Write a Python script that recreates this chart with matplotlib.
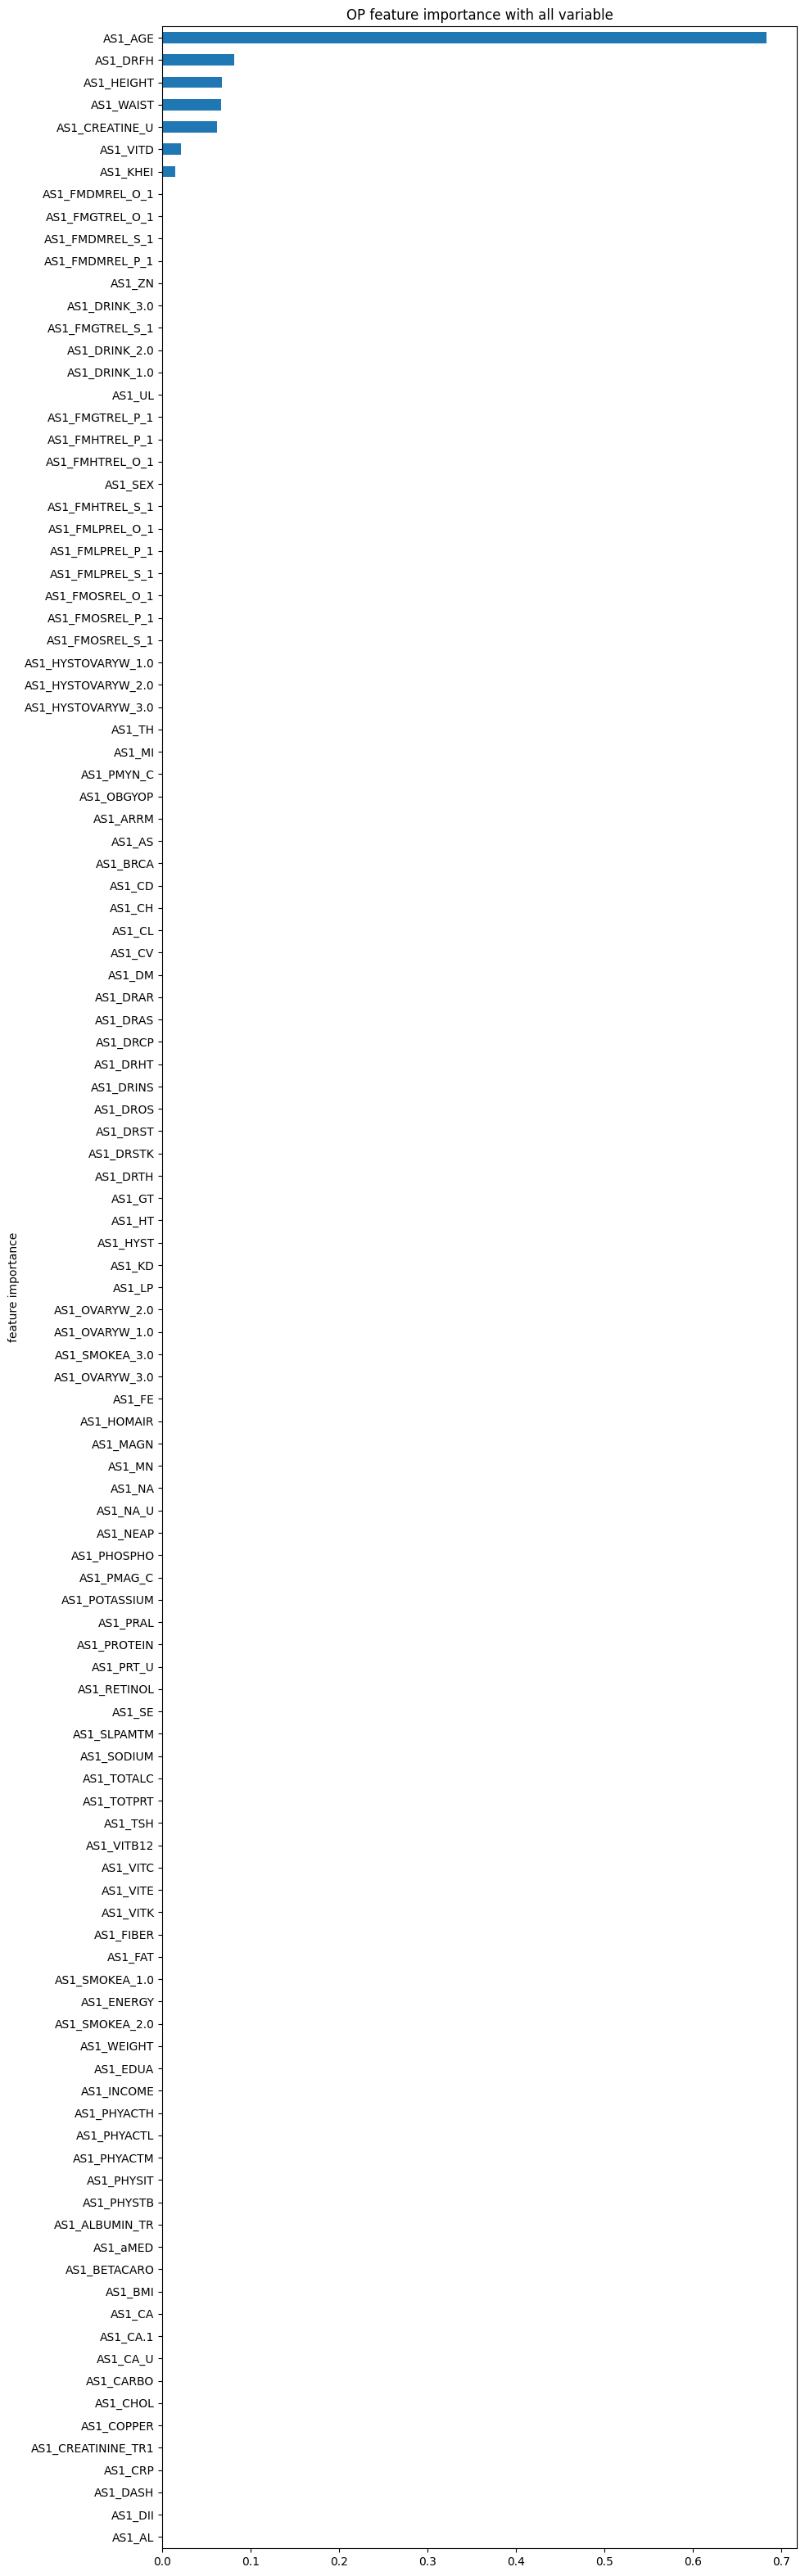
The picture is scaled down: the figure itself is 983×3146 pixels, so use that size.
import numpy as np
import pandas as pd
import matplotlib
matplotlib.use("Agg")
import matplotlib.pyplot as plt

# features listed top to bottom as they appear in the chart
features = [
    "AS1_AGE", "AS1_DRFH", "AS1_HEIGHT", "AS1_WAIST", "AS1_CREATINE_U", "AS1_VITD", "AS1_KHEI",
    "AS1_FMDMREL_O_1", "AS1_FMGTREL_O_1", "AS1_FMDMREL_S_1", "AS1_FMDMREL_P_1", "AS1_ZN",
    "AS1_DRINK_3.0", "AS1_FMGTREL_S_1", "AS1_DRINK_2.0", "AS1_DRINK_1.0", "AS1_UL",
    "AS1_FMGTREL_P_1", "AS1_FMHTREL_P_1", "AS1_FMHTREL_O_1", "AS1_SEX", "AS1_FMHTREL_S_1",
    "AS1_FMLPREL_O_1", "AS1_FMLPREL_P_1", "AS1_FMLPREL_S_1", "AS1_FMOSREL_O_1",
    "AS1_FMOSREL_P_1", "AS1_FMOSREL_S_1", "AS1_HYSTOVARYW_1.0", "AS1_HYSTOVARYW_2.0",
    "AS1_HYSTOVARYW_3.0", "AS1_TH", "AS1_MI", "AS1_PMYN_C", "AS1_OBGYOP", "AS1_ARRM",
    "AS1_AS", "AS1_BRCA", "AS1_CD", "AS1_CH", "AS1_CL", "AS1_CV", "AS1_DM", "AS1_DRAR",
    "AS1_DRAS", "AS1_DRCP", "AS1_DRHT", "AS1_DRINS", "AS1_DROS", "AS1_DRST", "AS1_DRSTK",
    "AS1_DRTH", "AS1_GT", "AS1_HT", "AS1_HYST", "AS1_KD", "AS1_LP", "AS1_OVARYW_2.0",
    "AS1_OVARYW_1.0", "AS1_SMOKEA_3.0", "AS1_OVARYW_3.0", "AS1_FE", "AS1_HOMAIR",
    "AS1_MAGN", "AS1_MN", "AS1_NA", "AS1_NA_U", "AS1_NEAP", "AS1_PHOSPHO", "AS1_PMAG_C",
    "AS1_POTASSIUM", "AS1_PRAL", "AS1_PROTEIN", "AS1_PRT_U", "AS1_RETINOL", "AS1_SE",
    "AS1_SLPAMTM", "AS1_SODIUM", "AS1_TOTALC", "AS1_TOTPRT", "AS1_TSH", "AS1_VITB12",
    "AS1_VITC", "AS1_VITE", "AS1_VITK", "AS1_FIBER", "AS1_FAT", "AS1_SMOKEA_1.0",
    "AS1_ENERGY", "AS1_SMOKEA_2.0", "AS1_WEIGHT", "AS1_EDUA", "AS1_INCOME", "AS1_PHYACTH",
    "AS1_PHYACTL", "AS1_PHYACTM", "AS1_PHYSIT", "AS1_PHYSTB", "AS1_ALBUMIN_TR", "AS1_aMED",
    "AS1_BETACARO", "AS1_BMI", "AS1_CA", "AS1_CA.1", "AS1_CA_U", "AS1_CARBO", "AS1_CHOL",
    "AS1_COPPER", "AS1_CREATININE_TR1", "AS1_CRP", "AS1_DASH", "AS1_DII", "AS1_AL",
]

# non-zero importances (top seven), everything else is zero
top_values = [0.683, 0.0812, 0.0673, 0.0664, 0.0618, 0.0210, 0.0145]
importance = top_values + [0.0] * (len(features) - len(top_values))

# pandas barh draws the first entry at the bottom, so reverse
s = pd.Series(importance[::-1], index=features[::-1])

fig = plt.figure(figsize=(9.83, 31.46), dpi=100)
ax = fig.add_axes([0.2017, 0.0108, 0.7881, 0.9789])
s.plot(kind="barh", ax=ax)
ax.set_title("OP feature importance with all variable")
ax.set_ylabel("feature importance")

fig.savefig("out.png", dpi=100)
